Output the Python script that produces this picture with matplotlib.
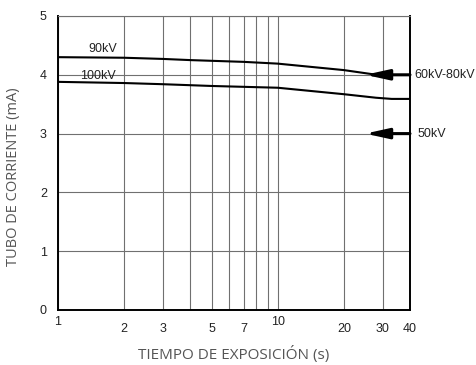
import matplotlib
matplotlib.use("Agg")
import matplotlib.pyplot as plt
from matplotlib.ticker import FixedLocator, NullFormatter

plt.rcParams["font.family"] = ["Liberation Sans", "DejaVu Sans"]

# Data
t_90 = [1, 2, 3, 4, 7, 10, 20, 27]
i_90 = [4.30, 4.29, 4.27, 4.25, 4.22, 4.19, 4.08, 4.01]
t_100 = [1, 2, 3, 5, 10, 20, 28, 33, 40]
i_100 = [3.88, 3.86, 3.84, 3.81, 3.78, 3.67, 3.61, 3.59, 3.59]
arrow_levels = [4.0, 3.0]
arrow_labels = ["60kV-80kV", "50kV"]
xticks = [1, 2, 3, 5, 7, 10, 20, 30, 40]
xticklabels = ["1", "2", "3", "5", "7", "10", "20", "30", "40"]
xminor = [4, 6, 8, 9]
yticks = [0, 1, 2, 3, 4, 5]

fig = plt.figure(figsize=(4.76, 3.65), dpi=100)
ax = fig.add_axes([58/476, 1-310/365, 352/476, 294/365])

ax.set_xscale("log")
ax.set_xlim(1, 40)
ax.set_ylim(0, 5)
ax.xaxis.set_major_locator(FixedLocator(xticks))
ax.set_xticklabels(xticklabels)
ax.xaxis.set_minor_locator(FixedLocator(xminor))
ax.xaxis.set_minor_formatter(NullFormatter())
ax.set_yticks(yticks)
ax.tick_params(axis="both", which="both", length=0, labelsize=9,
               labelcolor="#222222")
ax.tick_params(axis="y", pad=8)
for tick, lab in zip(ax.xaxis.get_major_ticks(), xticklabels):
    if lab in ("1", "10"):
        tick.set_pad(4)
    else:
        tick.set_pad(9)

ax.grid(True, which="both", axis="x", color="#707070", linewidth=0.8)
ax.grid(True, which="major", axis="y", color="#707070", linewidth=0.8)
ax.set_axisbelow(True)

for side in ("left", "bottom", "right"):
    ax.spines[side].set_linewidth(1.4)
    ax.spines[side].set_color("black")
ax.spines["top"].set_linewidth(0.8)
ax.spines["top"].set_color("#707070")

ax.plot(t_90, i_90, color="black", linewidth=1.5, solid_capstyle="butt")
ax.plot(t_100, i_100, color="black", linewidth=1.5, solid_capstyle="butt")

ax.text(1.38, 4.34, "90kV", fontsize=9, color="#222222",
        ha="left", va="bottom")
ax.text(1.26, 3.88, "100kV", fontsize=9, color="#222222",
        ha="left", va="bottom")

for lvl in arrow_levels:
    ax.annotate("", xy=(25.0, lvl), xytext=(40, lvl),
                arrowprops=dict(arrowstyle="-|>,head_length=1.0,head_width=0.22",
                                color="black", linewidth=2.2,
                                shrinkA=0, shrinkB=0, mutation_scale=14),
                annotation_clip=False)
ax.text(1.012, 4.0, arrow_labels[0], transform=ax.get_yaxis_transform(),
        fontsize=9, color="#222222", ha="left", va="center")
ax.text(1.02, 3.0, arrow_labels[1], transform=ax.get_yaxis_transform(),
        fontsize=9, color="#222222", ha="left", va="center")

ax.set_xlabel("TIEMPO DE EXPOSICIÓN (s)", family="Open Sans", fontsize=11,
              color="#555555", labelpad=8)
ax.set_ylabel("TUBO DE CORRIENTE (mA)", family="Open Sans", fontsize=10.5,
              color="#555555")
ax.yaxis.set_label_coords(-0.105, 0.455)

fig.savefig("out.png", dpi=100)
